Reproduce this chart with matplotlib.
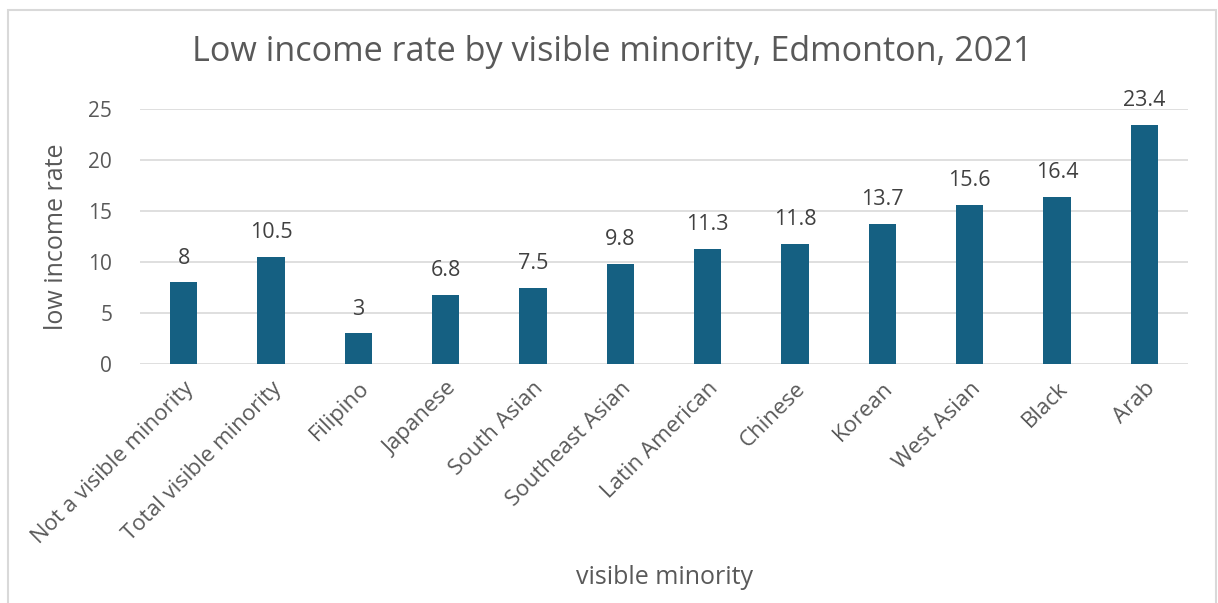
import matplotlib.pyplot as plt
from matplotlib.patches import Rectangle

categories = ["Not a visible minority", "Total visible minority", "Filipino", "Japanese",
              "South Asian", "Southeast Asian", "Latin American", "Chinese", "Korean",
              "West Asian", "Black", "Arab"]
rates = [8, 10.5, 3, 6.8, 7.5, 9.8, 11.3, 11.8, 13.7, 15.6, 16.4, 23.4]
rate_labels = ["8", "10.5", "3", "6.8", "7.5", "9.8", "11.3", "11.8", "13.7", "15.6", "16.4", "23.4"]
yticks = [0, 5, 10, 15, 20, 25]

plt.rcParams['font.family'] = ['Open Sans', 'DejaVu Sans']
text_col = "#595959"

fig = plt.figure(figsize=(12.18, 6.03), dpi=100)
ax = fig.add_axes([140 / 1218, 1 - 364 / 603, 1048 / 1218, 255 / 603])

x = list(range(len(categories)))
ax.bar(x, rates, width=0.31, color="#156082", zorder=3)
for xi, v, lab in zip(x, rates, rate_labels):
    ax.annotate(lab, (xi, v), xytext=(0, 10), textcoords="offset points",
                ha="center", va="bottom", fontsize=15.5, color="#404040")

ax.set_xlim(-0.5, len(categories) - 0.5)
ax.set_ylim(0, 25)
ax.set_yticks(yticks)
ax.yaxis.grid(True, color="#d9d9d9", linewidth=1.2, zorder=0)
ax.tick_params(axis="y", length=0, labelsize=15, labelcolor=text_col, pad=20)
ax.set_xticks(x)
ax.set_xticklabels(categories, rotation=45, ha="right", rotation_mode="anchor")
ax.tick_params(axis="x", length=0, labelsize=16, labelcolor=text_col, pad=10)
for s in ax.spines.values():
    s.set_visible(False)

ax.set_ylabel("low income rate", fontsize=18, color=text_col, labelpad=14)
fig.text(664 / 1218, 1 - 578 / 603, "visible minority", fontsize=18, color=text_col,
         ha="center", va="center")
fig.text(612 / 1218, 1 - 52 / 603, "Low income rate by visible minority, Edmonton, 2021",
         fontsize=24.6, color=text_col, ha="center", va="center")

fig.patches.append(Rectangle((8 / 1218, -0.1), 1208 / 1218, 1.1 - 10 / 603,
                             transform=fig.transFigure, fill=False,
                             edgecolor="#d9d9d9", linewidth=1.5))

plt.savefig("out.png", dpi=100)
plt.close()
